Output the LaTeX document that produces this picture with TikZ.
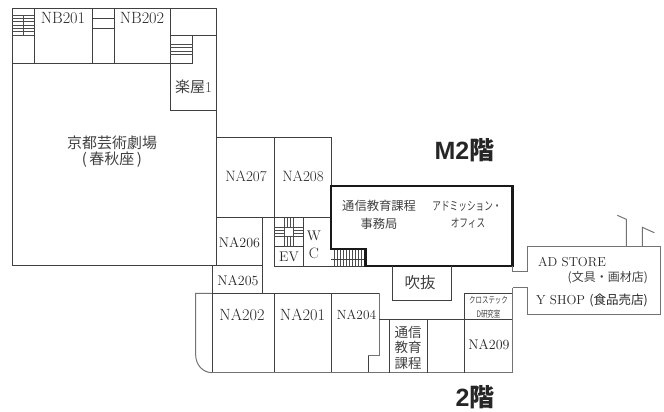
\documentclass[tikz,border=0pt]{standalone}
\usepackage{fontspec}
\newfontfamily\jpfont{Noto Sans CJK JP}
\newfontfamily\headfont{Liberation Sans}
\usepackage{tikz}

\begin{document}
\begin{tikzpicture}[x=1pt, y=-1pt]
	\tikzstyle{every node}=[inner sep=0pt, align=center, text=black!85, font=\fontsize{14}{16}\selectfont]
	\tikzstyle{wall}=[line width=0.9pt, draw=black!75]
	\tikzstyle{outer}=[line width=1pt, draw=black!55]
	\tikzstyle{thick wall}=[line width=2.6pt, draw=black!90]
	\tikzstyle{tread}=[line width=0.8pt, draw=black!70]
	\tikzstyle{room}=[font=\fontsize{15}{17}\selectfont]
	\tikzstyle{big room}=[font=\fontsize{16.3}{18}\selectfont]
	\tikzstyle{kanji}=[font=\jpfont\fontsize{15}{17}\selectfont, text=black!75]
	\tikzstyle{small kanji}=[font=\jpfont\fontsize{12.3}{15}\selectfont, text=black!75]
	\tikzstyle{narrow}=[font=\jpfont\fontsize{12}{14}\selectfont, xscale=0.72, transform shape, text=black!75]
	\tikzstyle{tiny}=[font=\jpfont\fontsize{9}{10}\selectfont, xscale=0.72, transform shape, text=black!75]
	\tikzstyle{floor}=[font=\fontsize{25}{27}\selectfont, text=black!85]
	\useasboundingbox (0, 0) rectangle (664, 412);
	% theatre block
	\draw [wall] (12, 8) rectangle (216.7, 265.5);
	\draw [wall] (12, 63) -- (192.5, 63);
	\draw [wall] (34, 8) -- (34, 63);
	\draw [wall] (92, 8) -- (92, 63);
	\draw [wall] (114, 8) -- (114, 63);
	\draw [wall] (170, 8) -- (170, 110) -- (216.7, 110);
	\draw [wall] (170, 35) -- (216.7, 35);
	\draw [wall] (192.5, 35) -- (192.5, 63);
	\draw [wall] (92, 18) -- (114, 18);
	\draw [wall] (92, 28.5) -- (114, 28.5);
	% stairs of the theatre
	\foreach \y in {15, 18.3, 21.7, 25, 28.3, 31.7, 35}
		\draw [tread] (12, \y) -- (34, \y);
	\draw [tread] (23, 15) -- (23, 35);
	\foreach \y in {44, 47.5, 51, 54.5}
		\draw [tread] (170, \y) -- (192.5, \y);
	% NA rooms
	\draw [wall] (216.7, 137) -- (331, 137) -- (331, 186);
	\draw [wall] (274.3, 137) -- (274.3, 266);
	\draw [wall] (216.7, 217.7) -- (331, 217.7);
	\draw [wall] (262.5, 217.7) -- (262.5, 293.3);
	\draw [wall] (212.3, 265.5) -- (262.5, 265.5);
	\draw [wall] (274.3, 266) -- (331, 266);
	\draw [wall] (212.3, 265.5) -- (212.3, 372.7);
	\draw [wall] (303, 217.7) -- (303, 266);
	\draw [wall] (274.3, 246.7) -- (303, 246.7);
	% stairs beside the lift
	\foreach \y in {227.5, 230.5, 233.5, 236.5}
		\draw [tread] (274.3, \y) -- (303, \y);
	\foreach \x in {284, 287, 290, 293}
		\draw [tread] (\x, 217.7) -- (\x, 246.7);
	\draw [tread, fill=white] (284, 227.5) rectangle (293, 236.5);
	% office, bold outline
	\foreach \x in {334, 337, 340, 343, 346, 349, 352, 355, 358, 361, 364}
		\draw [tread] (\x, 249) -- (\x, 266);
	\draw [wall] (331, 259) -- (365.7, 259);
	\draw [wall] (331, 266) -- (365.7, 266);
	\draw [thick wall] (331, 249) -- (331, 186) -- (512.7, 186) -- (512.7, 266) -- (365.7, 266) -- (365.7, 249) -- cycle;
	% second floor
	\draw [outer] (212.3, 293.3) -- (195.7, 293.3) -- (195.7, 355) .. controls (195.7, 365) and (203, 372.7) .. (212.3, 372.7);
	\draw [wall] (212.3, 293.3) -- (379, 293.3);
	\draw [outer] (379, 293.3) -- (379, 355.7) -- (368.3, 355.7) -- (368.3, 372.7);
	\draw [wall] (274.3, 293.3) -- (274.3, 372.7);
	\draw [wall] (331.3, 293.3) -- (331.3, 372.7);
	\draw [wall] (368.3, 355.7) -- (368.3, 372.7);
	\draw [outer] (212.3, 372.7) -- (512.7, 372.7);
	\draw [wall] (379, 319.3) -- (512.7, 319.3);
	\draw [wall] (389.3, 319.3) -- (389.3, 372.7);
	\draw [wall] (427.3, 319.3) -- (427.3, 372.7);
	\draw [wall] (464.7, 293.3) -- (464.7, 372.7);
	\draw [wall] (464.7, 293.3) -- (512.7, 293.3);
	\draw [outer] (512.7, 287.7) -- (512.7, 372.7);
	\draw [wall] (392.3, 266) -- (392.3, 300.7) -- (451.7, 300.7) -- (451.7, 266);
	% store wing
	\draw [outer] (512.7, 266) -- (512.7, 271.7) -- (527.7, 271.7) -- (527.7, 246) -- (660.7, 246) -- (660.7, 314) -- (527.7, 314) -- (527.7, 287.7) -- (512.7, 287.7);
	\draw [outer] (626.3, 246) -- (626.3, 219.3) -- (617.3, 215.3);
	\draw [outer] (642.3, 246) -- (642.3, 227.3) -- (654.3, 232.7);
	% labels
	\node [big room] (NB201) at (63, 18.5) {NB201};
	\node [big room] (NB202) at (142, 18.5) {NB202};
	\node [kanji] (gakuya) at (193.5, 87) {楽屋{\fontsize{15}{17}\selectfont\rmfamily 1}};
	\node [kanji] (gekijo) at (112, 143) {京都芸術劇場};
	\node [kanji] (shunju) at (112, 160) {(\,春秋座\,)};
	\node [room] (NA207) at (246, 176) {NA207};
	\node [room] (NA208) at (303, 176) {NA208};
	\node (NA206) at (239.5, 242.7) {NA206};
	\node (NA205) at (238, 280.7) {NA205};
	\node (EV) at (289, 257) {EV};
	\node (W) at (314, 236) {W};
	\node [room] (C) at (314, 253) {C};
	\node [big room] (NA202) at (242, 315) {NA202};
	\node [big room] (NA201) at (302.5, 315) {NA201};
	\node [font=\fontsize{13.3}{15}\selectfont] (NA204) at (356.5, 315) {NA204};
	\node (NA209) at (489, 345) {NA209};
	\node [small kanji, anchor=west] (tsushin) at (342, 206) {通信教育課程};
	\node [small kanji] (jimukyoku) at (379, 224) {事務局};
	\node [narrow] (admission) at (467, 206) {アドミッション・};
	\node [narrow] (office) at (468, 223) {オフィス};
	\node [kanji, font=\jpfont\fontsize{15.5}{17}\selectfont] (fukinuke) at (420, 283) {吹抜};
	\node [kanji, font=\jpfont\fontsize{13.5}{15.5}\selectfont] (katei) at (408, 347.5) {通信\\教育\\課程};
	\node [tiny] (crosstech) at (488.5, 300) {クロステック};
	\node [tiny] (lab) at (488.5, 314) {D研究室};
	\node [font=\fontsize{13}{15}\selectfont, anchor=west] (adstore) at (538, 261.7) {AD STORE};
	\node [small kanji, font=\jpfont\fontsize{12}{15}\selectfont, anchor=east] (bungu) at (648, 278) {(文具・画材店)};
	\node [font=\fontsize{13}{15}\selectfont, anchor=east] (yshop) at (648, 300) {Y SHOP {\jpfont\fontsize{12.5}{15}\selectfont (食品売店)}};
	\node [floor] (M2) at (464.5, 150) {\headfont\bfseries M2\jpfont\bfseries 階};
	\node [floor] (F2) at (475, 397) {\headfont\bfseries 2\jpfont\bfseries 階};
\end{tikzpicture}
\end{document}
